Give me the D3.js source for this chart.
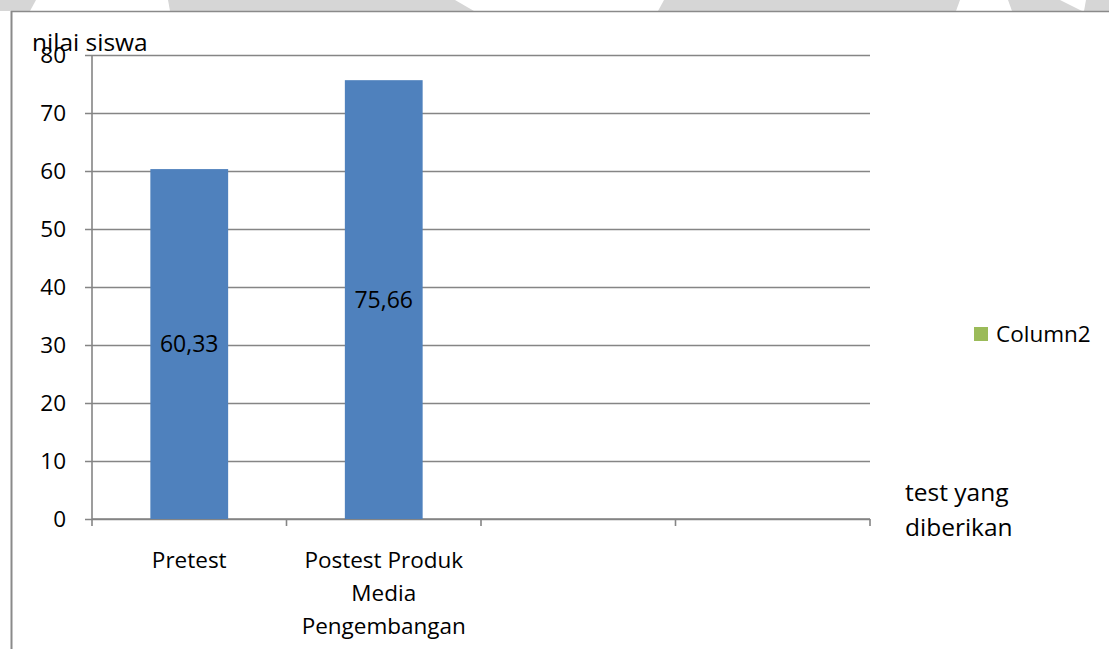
<!DOCTYPE html>
<html>
<head>
<meta charset="utf-8">
<script src="https://cdn.jsdelivr.net/npm/d3@7"></script>
<style>
  body { margin: 0; background: #fff; }
  svg text { font-family: "Open Sans", sans-serif; fill: #000; }
</style>
</head>
<body>
<svg width="1109" height="649"></svg>
<script>
var categories = ["Pretest", "Postest Produk Media Pengembangan", "", ""];
var values = [60.33, 75.66, null, null];
var valueLabels = ["60,33", "75,66", "", ""];
var yTicks = [0, 10, 20, 30, 40, 50, 60, 70, 80];
var seriesName = "Column2";
var yTitle = "nilai siswa";
var xTitle = ["test yang", "diberikan"];

var svg = d3.select("svg"),
    plot = {left: 92, right: 870, top: 55, bottom: 519};

// faint watermark shapes along the top edge
var marks = [
    [[0, 0], [36, 0], [30, 11], [0, 11]],
    [[168, 0], [455, 0], [474, 11], [170, 11]],
    [[664, 0], [960, 0], [956, 11], [658, 11]],
    [[1008, 0], [1060, 0], [1082, 11], [1012, 11]],
    [[1086, 0], [1109, 0], [1109, 11], [1084, 11]]
];
svg.selectAll(".wm").data(marks).enter().append("polygon")
    .attr("class", "wm")
    .attr("points", function (d) { return d.join(" "); })
    .attr("fill", "#d6d6d6");

// chart frame (top and left edges visible)
svg.append("line").attr("x1", 11).attr("x2", 1109).attr("y1", 11.5).attr("y2", 11.5)
    .attr("stroke", "#8a8a8a").attr("stroke-width", 1.5);
svg.append("line").attr("x1", 11.5).attr("x2", 11.5).attr("y1", 11).attr("y2", 649)
    .attr("stroke", "#8a8a8a").attr("stroke-width", 2);

var scaleX = d3.scaleBand()
    .domain(d3.range(categories.length))
    .range([plot.left, plot.right])
    .paddingInner(0).paddingOuter(0);

var scaleY = d3.scaleLinear().domain([0, 80]).range([plot.bottom, plot.top]);

// gridlines with tick stubs
var grid = svg.append("g")
    .attr("transform", "translate(" + plot.left + ",0)")
    .call(d3.axisLeft(scaleY).tickValues(yTicks)
        .tickSize(-(plot.right - plot.left)).tickSizeOuter(0).tickFormat(""));
grid.select(".domain").remove();
grid.selectAll(".tick line").attr("stroke", "#858585").attr("stroke-width", 1.6).attr("x1", -7);

// y axis line
svg.append("line").attr("x1", plot.left).attr("x2", plot.left)
    .attr("y1", plot.top).attr("y2", plot.bottom)
    .attr("stroke", "#858585").attr("stroke-width", 1.6);

// y tick labels
svg.selectAll(".ylab").data(yTicks).enter().append("text")
    .attr("class", "ylab")
    .attr("x", 66)
    .attr("y", function (d) { return scaleY(d); })
    .attr("dy", "0.36em")
    .attr("text-anchor", "end")
    .style("font-size", "22.5px")
    .text(function (d) { return d; });

// x axis with boundary ticks
var xTickPos = d3.range(categories.length + 1).map(function (i) {
    return plot.left + i * scaleX.bandwidth();
});
svg.append("line").attr("x1", plot.left).attr("x2", plot.right)
    .attr("y1", plot.bottom).attr("y2", plot.bottom)
    .attr("stroke", "#858585").attr("stroke-width", 1.6);
svg.selectAll(".xtick").data(xTickPos).enter().append("line")
    .attr("class", "xtick")
    .attr("x1", function (d) { return d; }).attr("x2", function (d) { return d; })
    .attr("y1", plot.bottom).attr("y2", plot.bottom + 7)
    .attr("stroke", "#858585").attr("stroke-width", 1.6);

// bars
var barW = scaleX.bandwidth() * 0.4;
var bars = categories.map(function (c, i) {
    return {i: i, v: values[i], label: valueLabels[i]};
}).filter(function (d) { return d.v !== null; });

svg.selectAll(".bar").data(bars).enter().append("rect")
    .attr("class", "bar")
    .attr("x", function (d) { return scaleX(d.i) + scaleX.bandwidth() / 2 - barW / 2; })
    .attr("width", barW)
    .attr("y", function (d) { return scaleY(d.v); })
    .attr("height", function (d) { return scaleY(0) - scaleY(d.v); })
    .attr("fill", "#4f81bd");

svg.selectAll(".vlab").data(bars).enter().append("text")
    .attr("class", "vlab")
    .attr("x", function (d) { return scaleX(d.i) + scaleX.bandwidth() / 2; })
    .attr("y", function (d) { return (scaleY(d.v) + scaleY(0)) / 2; })
    .attr("dy", "0.36em")
    .attr("text-anchor", "middle")
    .style("font-size", "23px")
    .text(function (d) { return d.label; });

// category labels, wrapped to the band width
function wrap(textSel, width) {
    textSel.each(function () {
        var text = d3.select(this),
            words = text.text().split(/\s+/).filter(function (w) { return w; }),
            x = text.attr("x"),
            line = [],
            tspan = text.text(null).append("tspan").attr("x", x).attr("dy", 0);
        words.forEach(function (w) {
            line.push(w);
            tspan.text(line.join(" "));
            if (tspan.node().getComputedTextLength() > width && line.length > 1) {
                line.pop();
                tspan.text(line.join(" "));
                line = [w];
                tspan = text.append("tspan").attr("x", x).attr("dy", "1.47em").text(w);
            }
        });
    });
}

svg.selectAll(".xlab").data(categories).enter().append("text")
    .attr("class", "xlab")
    .attr("x", function (d, i) { return scaleX(i) + scaleX.bandwidth() / 2; })
    .attr("y", 568)
    .attr("text-anchor", "middle")
    .style("font-size", "22.5px")
    .text(function (d) { return d; })
    .call(wrap, 180);

// axis titles
svg.append("text").attr("x", 32).attr("y", 51)
    .style("font-size", "24.5px").text(yTitle);

svg.selectAll(".xtitle").data(xTitle).enter().append("text")
    .attr("class", "xtitle")
    .attr("x", 905)
    .attr("y", function (d, i) { return 501 + i * 35; })
    .style("font-size", "24.5px")
    .text(function (d) { return d; });

// legend
svg.append("rect").attr("x", 974).attr("y", 327).attr("width", 14).attr("height", 14)
    .attr("fill", "#9bbb59");
svg.append("text").attr("x", 996).attr("y", 334).attr("dy", "0.36em")
    .style("font-size", "22.5px").text(seriesName);
</script>
</body>
</html>
